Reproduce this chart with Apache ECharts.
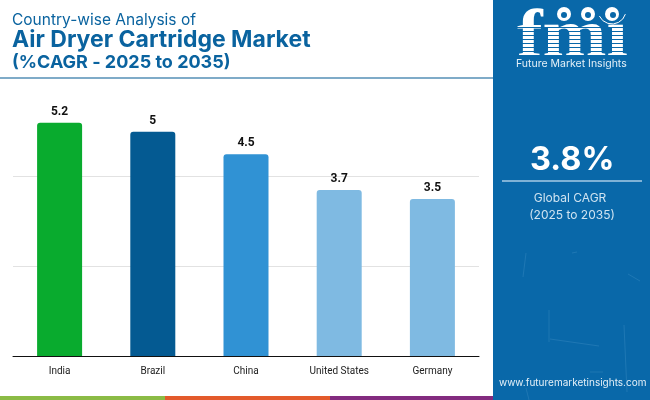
<!DOCTYPE html>
<html>
<head>
<meta charset="utf-8">
<style>
html, body { margin: 0; padding: 0; background: #fff; }
#chart { width: 650px; height: 400px; }
</style>
<script src="https://cdn.jsdelivr.net/npm/echarts@6/dist/echarts.min.js"></script>
</head>
<body>
<div id="chart"></div>
<script>
var countries = ['India', 'Brazil', 'China', 'United States', 'Germany'];
var cagr = [5.2, 5, 4.5, 3.7, 3.5];
var barColors = ['#09ab2e', '#045a92', '#3092d4', '#7fbae2', '#7fbae2'];
var titleLines = ['Country-wise Analysis of', 'Air Dryer Cartridge Market', '(%CAGR - 2025 to 2035)'];
var globalCagr = '3.8%';
var globalLabels = ['Global CAGR', '(2025 to 2035)'];
var website = 'www.futuremarketinsights.com';

var chart = echarts.init(document.getElementById('chart'));
var blue = '#0a639f';
var panel = '#0968a9';
var font = 'Inter';

// logo stripes over the big fmi letters
var logoStripes = [];
for (var y = 27; y < 56; y += 4) {
    logoStripes.push({
        type: 'rect', z: 12,
        shape: { x: 512, y: y, width: 118, height: 1 },
        style: { fill: panel }
    });
}

// faint scratches in the panel background
var scratches = [
    [526, 253, 523, 277], [572, 253, 577, 252], [628, 274, 640, 281], [550, 339, 599, 346],
    [549, 310, 549, 342], [624, 325, 627, 392], [526, 388, 529, 400], [590, 372, 603, 372]
].map(function (p) {
    return {
        type: 'line', z: 10,
        shape: { x1: p[0], y1: p[1], x2: p[2], y2: p[3] },
        style: { stroke: 'rgba(130,190,230,0.18)', lineWidth: 1 }
    };
});

chart.setOption({
    animation: false,
    grid: { left: 13, right: 171, top: 87, bottom: 44 },
    xAxis: {
        type: 'category',
        data: countries,
        axisLine: { lineStyle: { color: '#111', width: 1 } },
        axisTick: { show: false },
        axisLabel: { color: '#222', fontSize: 10, fontFamily: 'Roboto', margin: 10 }
    },
    yAxis: {
        type: 'value',
        min: 0,
        max: 6,
        interval: 2,
        axisLine: { show: false },
        axisTick: { show: false },
        axisLabel: { show: false },
        splitLine: { showMaxLine: false, lineStyle: { color: '#e2e2e2', width: 1 } }
    },
    series: [{
        type: 'bar',
        barWidth: 45,
        data: cagr.map(function (v, i) {
            return { value: v, itemStyle: { color: barColors[i], borderRadius: [3, 3, 0, 0] } };
        }),
        label: {
            show: true,
            position: 'top',
            distance: 5,
            color: '#111',
            fontSize: 12,
            fontWeight: 'bold',
            fontFamily: 'Roboto'
        }
    }],
    graphic: [
        { type: 'text', left: 12, top: 12, style: { text: titleLines[0], fill: blue, font: '15.5px ' + font } },
        { type: 'text', left: 12, top: 29, style: { text: titleLines[1], fill: blue, font: 'bold 23px ' + font } },
        { type: 'text', left: 12, top: 54, style: { text: titleLines[2], fill: blue, font: 'bold 18px ' + font } },
        { type: 'rect', shape: { x: 0, y: 77, width: 493, height: 2 }, style: { fill: '#7fabc8' } },

        { type: 'rect', z: 9, shape: { x: 493, y: 0, width: 157, height: 400 }, style: { fill: panel } },
        { type: 'text', z: 11, x: 517, y: 4, scaleX: 1.13, style: { text: 'fmi', fill: '#fff', font: 'bold 68px "Liberation Serif"' } },
        { type: 'circle', z: 13, shape: { cx: 564, cy: 14, r: 7 }, style: { fill: '#fff' } },
        { type: 'circle', z: 13, shape: { cx: 588, cy: 14, r: 7 }, style: { fill: '#fff' } },
        { type: 'rect', z: 13, shape: { x: 604, y: 2, width: 24, height: 19 }, style: { fill: panel } },
        { type: 'circle', z: 14, shape: { cx: 612, cy: 14, r: 7 }, style: { fill: '#fff' } },
        { type: 'circle', z: 14, shape: { cx: 564, cy: 15, r: 3 }, style: { fill: panel } },
        { type: 'circle', z: 14, shape: { cx: 588, cy: 15, r: 3 }, style: { fill: panel } },
        { type: 'circle', z: 15, shape: { cx: 613, cy: 15, r: 3 }, style: { fill: panel } },
        { type: 'arc', z: 14, shape: { cx: 612, cy: 10, r: 14, startAngle: 0.3, endAngle: 2.7 }, style: { stroke: '#fff', lineWidth: 1, fill: 'none' } },
        { type: 'text', z: 11, left: 516, top: 58, style: { text: 'Future Market Insights', fill: '#e4f0f8', font: '10.5px ' + font } },
        { type: 'text', z: 11, left: 530, top: 144, style: { text: globalCagr, fill: '#fff', font: 'bold 32.5px ' + font } },
        { type: 'rect', z: 11, shape: { x: 502, y: 180, width: 140, height: 2 }, style: { fill: '#7fb2d6' } },
        { type: 'text', z: 11, x: 570, y: 192, style: { text: globalLabels[0], fill: '#cfe3f1', font: '12px ' + font, align: 'center' } },
        { type: 'text', z: 11, x: 572, y: 209, style: { text: globalLabels[1], fill: '#cfe3f1', font: '12px ' + font, align: 'center' } },
        { type: 'text', z: 11, left: 499, top: 378, style: { text: website, fill: '#e4f0f8', font: '10px ' + font } },

        { type: 'rect', z: 11, shape: { x: 0, y: 396, width: 165, height: 4 }, style: { fill: '#8bbb45' } },
        { type: 'rect', z: 11, shape: { x: 165, y: 396, width: 165, height: 4 }, style: { fill: '#e35a2b' } },
        { type: 'rect', z: 11, shape: { x: 330, y: 396, width: 163, height: 4 }, style: { fill: '#832b7f' } }
    ].concat(logoStripes, scratches)
});
</script>
</body>
</html>
